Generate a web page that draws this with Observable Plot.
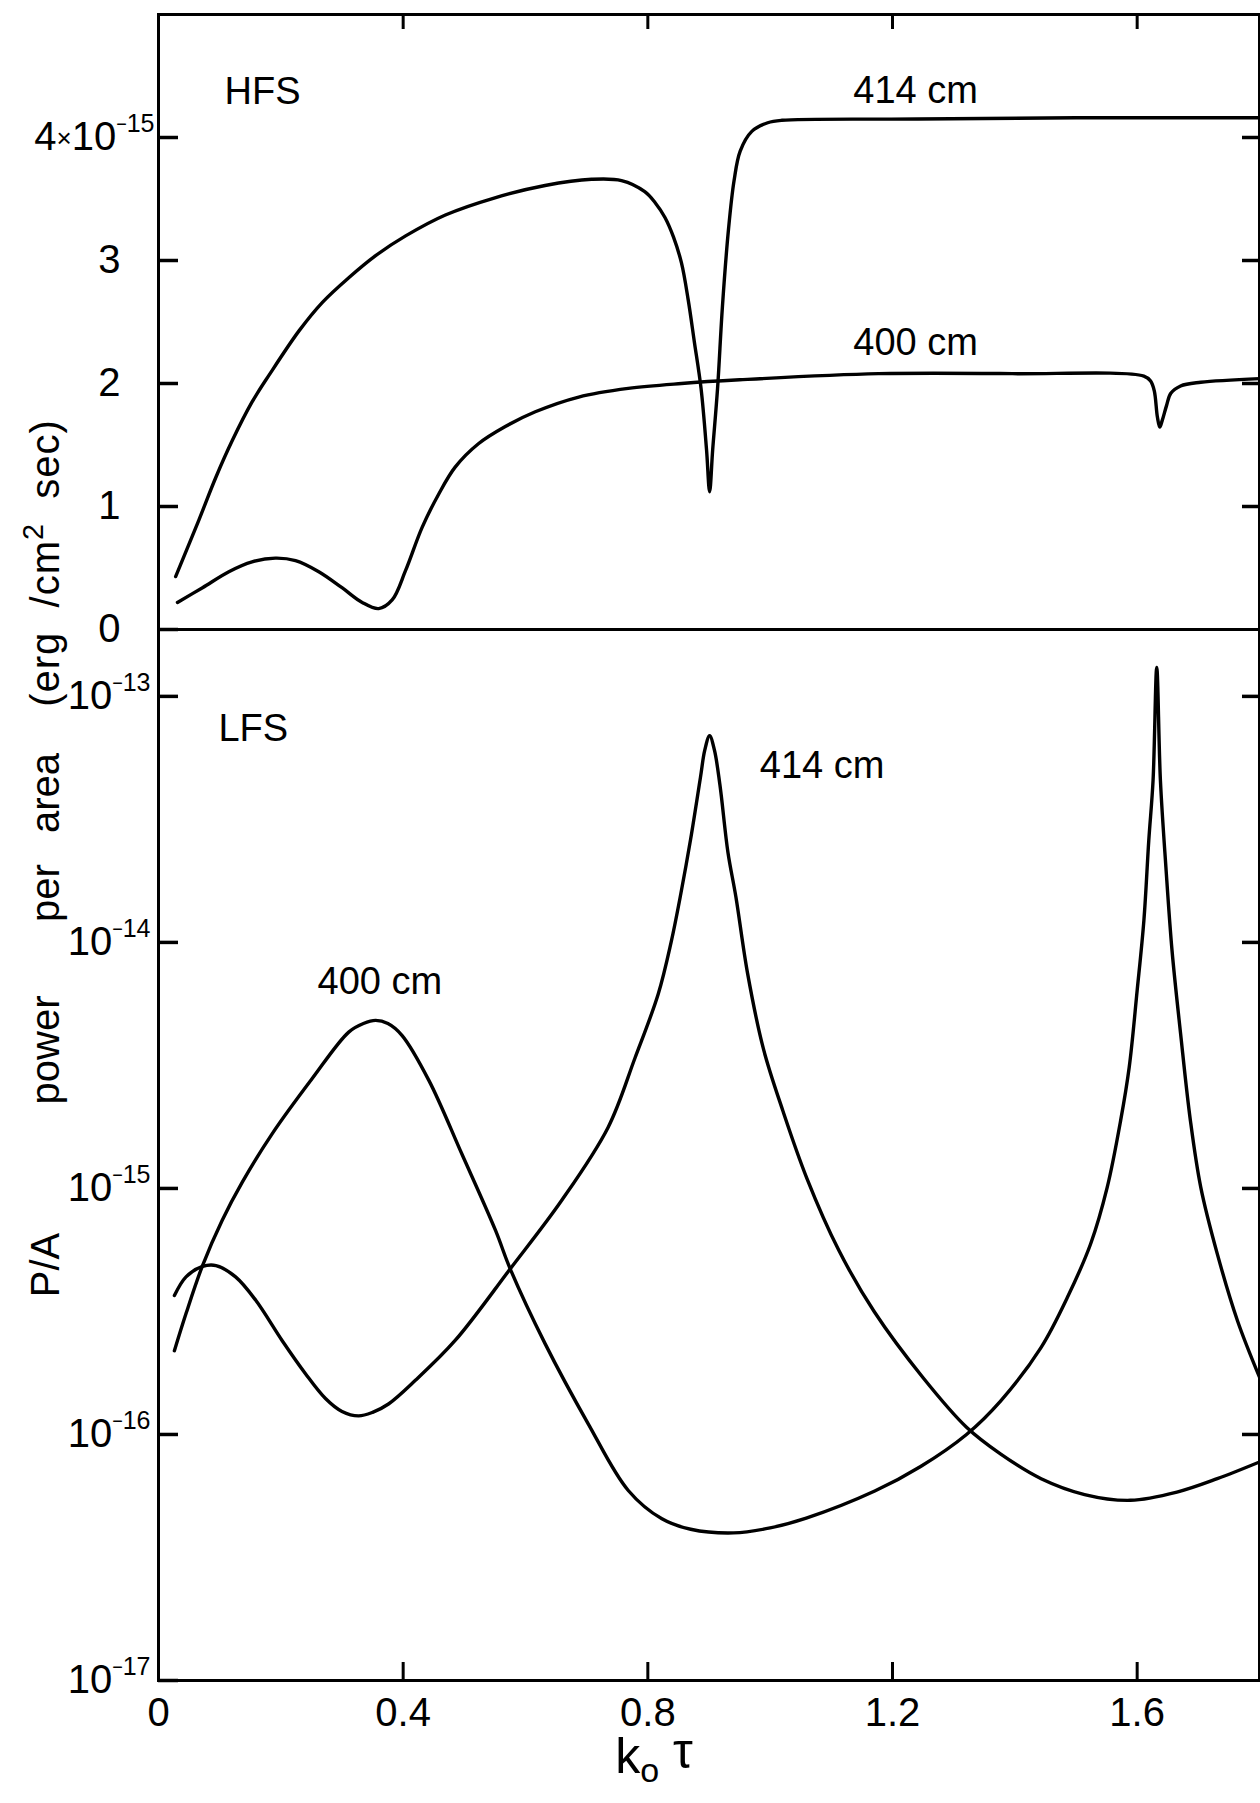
<!DOCTYPE html>
<html>
<head>
<meta charset="utf-8">
<script src="https://cdn.jsdelivr.net/npm/d3@7"></script>
<script src="https://cdn.jsdelivr.net/npm/@observablehq/plot@0.6"></script>
<style>
html, body { margin: 0; padding: 0; background: #fff; overflow: hidden; }
#wrap { position: relative; width: 1260px; height: 1803px; overflow: hidden; background: #fff;
        font-family: "Liberation Sans", Arial, sans-serif; color: #000; }
#wrap svg { position: absolute; left: 0; overflow: visible; background: transparent; }
.ylab { position: absolute; left: 45px; font-size: 40px; white-space: pre; line-height: 1;
        transform: translate(-50%, -50%) rotate(-90deg); }
.ylab sup { font-size: 0.72em; line-height: 0; vertical-align: 0.55em; }
</style>
</head>
<body>
<div id="wrap"></div>
<script>
// ---------------- DATA ----------------
// x: k0*tau
// Top panel (HFS): power per area in units of 1e-15 erg/(cm^2 sec)
const hfs414X = [0.028,0.066,0.094,0.121,0.153,0.181,0.230,0.268,0.311,0.355,0.404,0.469,0.550,0.632,0.708,0.757,0.795,0.812,0.828,0.842,0.855,0.866,0.876,0.887,0.896,0.901,0.906,0.914,0.922,0.932,0.941,0.951,0.970,0.996,1.019,1.241,1.50,1.80];
const hfs414Y = [0.43,0.89,1.24,1.54,1.85,2.07,2.43,2.66,2.86,3.04,3.20,3.37,3.51,3.61,3.66,3.65,3.56,3.47,3.35,3.19,2.98,2.68,2.34,1.96,1.46,1.12,1.46,1.96,2.63,3.26,3.65,3.89,4.05,4.12,4.14,4.15,4.16,4.16];

const hfs400X = [0.031,0.072,0.115,0.153,0.191,0.224,0.262,0.300,0.333,0.360,0.382,0.404,0.431,0.458,0.485,0.523,0.567,0.616,0.687,0.768,0.855,0.950,1.177,1.396,1.611,1.622,1.628,1.633,1.637,1.641,1.648,1.655,1.671,1.704,1.80];
const hfs400Y = [0.22,0.34,0.47,0.55,0.58,0.56,0.47,0.34,0.22,0.17,0.24,0.48,0.83,1.10,1.32,1.51,1.65,1.77,1.89,1.96,2.00,2.03,2.08,2.08,2.06,2.02,1.94,1.73,1.645,1.70,1.82,1.92,1.98,2.01,2.04];

// Bottom panel (LFS): power per area, erg/(cm^2 sec), log scale
const lfs400X = [0.026,0.045,0.072,0.104,0.137,0.186,0.251,0.311,0.335,0.355,0.375,0.398,0.442,0.496,0.551,0.575,0.632,0.703,0.768,0.823,0.870,0.940,1.000,1.059,1.171,1.246,1.321,1.377,1.443,1.486,1.524,1.551,1.573,1.587,1.600,1.611,1.619,1.626,1.632,1.638,1.647,1.657,1.671,1.687,1.704,1.731,1.764,1.800];
const lfs400Y = [2.19e-16,3.10e-16,4.86e-16,7.41e-16,1.06e-15,1.67e-15,2.79e-15,4.32e-15,4.68e-15,4.82e-15,4.68e-15,4.19e-15,2.75e-15,1.38e-15,6.75e-16,4.71e-16,2.34e-16,1.10e-16,5.92e-17,4.54e-17,4.12e-17,3.98e-17,4.17e-17,4.57e-17,5.89e-17,7.41e-17,1.00e-16,1.37e-16,2.26e-16,3.61e-16,5.96e-16,1.01e-15,1.89e-15,3.11e-15,6.38e-15,1.23e-14,2.60e-14,4.56e-14,1.31e-13,4.56e-14,2.02e-14,9.27e-15,4.26e-15,1.89e-15,1.01e-15,5.42e-16,2.90e-16,1.71e-16];

const lfs414X = [0.026,0.045,0.072,0.094,0.126,0.159,0.202,0.240,0.273,0.300,0.327,0.350,0.376,0.420,0.485,0.575,0.659,0.735,0.779,0.817,0.838,0.854,0.870,0.886,0.893,0.901,0.909,0.918,0.931,0.944,0.963,0.989,1.021,1.060,1.112,1.170,1.250,1.321,1.377,1.443,1.514,1.589,1.665,1.731,1.800];
const lfs414Y = [3.67e-16,4.37e-16,4.82e-16,4.86e-16,4.37e-16,3.51e-16,2.41e-16,1.77e-16,1.40e-16,1.24e-16,1.19e-16,1.23e-16,1.33e-16,1.66e-16,2.41e-16,4.71e-16,8.93e-16,1.77e-15,3.39e-15,6.17e-15,1.00e-14,1.58e-14,2.63e-14,4.68e-14,6.03e-14,6.92e-14,6.03e-14,4.34e-14,2.32e-14,1.53e-14,7.50e-15,3.69e-15,2.06e-15,1.10e-15,5.62e-16,3.16e-16,1.70e-16,1.07e-16,8.32e-17,6.61e-17,5.70e-17,5.40e-17,5.83e-17,6.61e-17,7.73e-17];

// Ticks
const xTicks = [0, 0.4, 0.8, 1.2, 1.6];
const hfsTicks = [0, 1, 2, 3, 4];
const lfsTicks = [1e-17, 1e-16, 1e-15, 1e-14, 1e-13];

// Curve labels (anchored in data coordinates)
const hfsLabels = [
  {x: 0.108, y: 4.37, text: "HFS"},
  {x: 1.136, y: 4.38, text: "414 cm"},
  {x: 1.136, y: 2.33, text: "400 cm"}
];
const lfsLabels = [
  {x: 0.098, y: 7.4e-14, text: "LFS"},
  {x: 0.983, y: 5.2e-14, text: "414 cm"},
  {x: 0.260, y: 6.9e-15, text: "400 cm"}
];
const xLabelParts = ["k", "o", " τ"];
const yLabelWords = ["P/A", "power", "per", "area", "(erg  /cm<sup>2</sup>  sec)"];

// ---------------- BUILD ----------------
const zip = (xs, ys, s) => xs.map((x, i) => ({x, y: ys[i], s}));
const hfs = [...zip(hfs414X, hfs414Y, "414"), ...zip(hfs400X, hfs400Y, "400")];
const lfs = [...zip(lfs414X, lfs414Y, "414"), ...zip(lfs400X, lfs400Y, "400")];

const FONT = '"Liberation Sans", Arial, sans-serif';
const SW = 3.4;
const W = 1260;

const topPlot = Plot.plot({
  width: W, height: 630,
  marginLeft: 158, marginRight: 1, marginTop: 14, marginBottom: 1,
  style: {background: "transparent", overflow: "visible", fontFamily: FONT, color: "#000"},
  x: {domain: [0, 1.8]},
  y: {domain: [0, 5]},
  marks: [
    Plot.frame({stroke: "#000", strokeWidth: 3}),
    Plot.axisY(hfsTicks, {anchor: "left", label: null, tickSize: -20, tickPadding: 58, strokeWidth: 3.5,
      fontSize: 40, tickFormat: d => d === 4 ? "4×10|15" : String(d)}),
    Plot.axisY(hfsTicks.slice(1), {anchor: "right", label: null, tickSize: -18, strokeWidth: 3.5, tickFormat: () => ""}),
    Plot.axisX(xTicks.slice(1), {anchor: "top", label: null, tickSize: -14, strokeWidth: 3, tickFormat: () => ""}),
    Plot.line(hfs, {x: "x", y: "y", z: "s", stroke: "#000", strokeWidth: SW, curve: "catmull-rom"}),
    Plot.text(hfsLabels, {x: "x", y: "y", text: "text", textAnchor: "start", fontSize: 38, fill: "#000"})
  ]
});

const botPlot = Plot.plot({
  width: W, height: 1174,
  marginLeft: 158, marginRight: 1, marginTop: 0, marginBottom: 123,
  style: {background: "transparent", overflow: "visible", fontFamily: FONT, color: "#000"},
  x: {domain: [0, 1.8]},
  y: {type: "log", domain: [1e-17, 1.87e-13]},
  marks: [
    Plot.frame({stroke: "#000", strokeWidth: 3}),
    Plot.axisY(lfsTicks, {anchor: "left", label: null, tickSize: -20, tickPadding: 58, strokeWidth: 3.5,
      fontSize: 40, tickFormat: d => "10|" + Math.round(-Math.log10(d))}),
    Plot.axisY(lfsTicks.slice(1), {anchor: "right", label: null, tickSize: -18, strokeWidth: 3.5, tickFormat: () => ""}),
    Plot.axisX(xTicks, {anchor: "bottom", label: null, tickSize: -18, tickPadding: 35, strokeWidth: 3,
      fontSize: 40, tickFormat: d => d === 0 ? "0" : d.toFixed(1)}),
    Plot.line(lfs, {x: "x", y: "y", z: "s", stroke: "#000", strokeWidth: SW, curve: "catmull-rom"}),
    Plot.text(lfsLabels, {x: "x", y: "y", text: "text", textAnchor: "start", fontSize: 38, fill: "#000"}),
    Plot.text([{x: 0.81, t: xLabelParts.join("")}], {x: "x", text: "t", frameAnchor: "bottom", dy: 92, fontSize: 50, fill: "#000", className: "xlab"})
  ]
});

const wrap = document.getElementById("wrap");
topPlot.style.top = "0px";
botPlot.style.top = "629px";
wrap.appendChild(topPlot);
wrap.appendChild(botPlot);

const NS = "http://www.w3.org/2000/svg";
const tspan = (txt, attrs, size) => {
  const t = document.createElementNS(NS, "tspan");
  for (const k in attrs) t.setAttribute(k, attrs[k]);
  if (size) t.style.fontSize = size;
  t.textContent = txt;
  return t;
};
// exponent tick labels: base ("10" or "4×10") followed by a raised "−NN"
function supers(svg) {
  svg.querySelectorAll("text").forEach(t => {
    const s = t.textContent;
    if (!s.includes("|")) return;
    const [base, exp] = s.split("|");
    t.textContent = "";
    const wide = base.includes("×");
    if (wide) {
      const [a, b] = base.split("×");
      t.appendChild(document.createTextNode(a));
      t.appendChild(tspan("×", {dy: "-3"}, "26px"));
      t.appendChild(tspan(b, {dy: "3"}));
    } else {
      t.appendChild(document.createTextNode(base));
    }
    const m = tspan("−", {dy: "-20"}, "18px");
    const e = tspan(exp, {dy: "2"}, "25px");
    t.appendChild(m);
    t.appendChild(e);
    // place the whole label so the exponent ends just left of the axis
    const shift = wide ? 34 : 30;
    const tr = t.getAttribute("transform") || "";
    t.setAttribute("transform", `translate(${shift},0) ${tr}`);
  });
}
supers(topPlot);
supers(botPlot);

// x-axis title with subscript o
botPlot.querySelectorAll("g.xlab text").forEach(t => {
  t.textContent = xLabelParts[0];
  t.appendChild(tspan(xLabelParts[1], {dy: "0.28em"}, "34px"));
  t.appendChild(tspan(xLabelParts[2], {dy: "-0.28em"}));
});

// rotated y-axis title spanning both panels
const yCenters = [1265, 1050, 893, 793, 563];
yLabelWords.forEach((w, i) => {
  const d = document.createElement("div");
  d.className = "ylab";
  d.style.top = yCenters[i] + "px";
  if (i === 4) d.style.letterSpacing = "1px";
  d.innerHTML = w;
  wrap.appendChild(d);
});
</script>
</body>
</html>
